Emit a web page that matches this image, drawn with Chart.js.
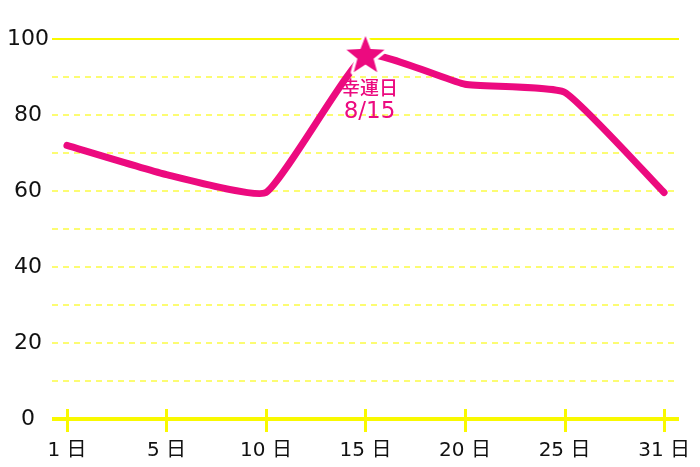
<!DOCTYPE html>
<html>
<head>
<meta charset="utf-8">
<script src="https://cdn.jsdelivr.net/npm/chart.js@4/dist/chart.umd.min.js"></script>
<style>
    html, body { margin: 0; padding: 0; background: #fff; }
    #wrap { width: 700px; height: 467px; }
</style>
</head>
<body>
<div id="wrap"><canvas id="luckChart"></canvas></div>
<script>
const days = [1, 5, 10, 15, 20, 25, 31];
const luck = [72, 64.3, 59.6, 95.8, 88.1, 86, 59.6];
const yTicks = [0, 20, 40, 60, 80, 100];
const luckyIndex = 3;
const luckyText = ['幸運日', '8/15'];

const pink = '#ec0a7f';
const yellow = '#f9f900';
const paleYellow = '#fcfc72';
const fontFamily = '"DejaVu Sans", "Noto Sans CJK JP", sans-serif';
const cjkFamily = '"Noto Sans CJK JP", sans-serif';

// filled star with a white rim, used as the point style of the lucky day
function makeStar() {
    const c = document.createElement('canvas');
    c.width = 50;
    c.height = 50;
    const g = c.getContext('2d');
    const cx = 25, cy = 26, outer = 20, inner = 8.5;
    g.beginPath();
    for (let i = 0; i < 10; i++) {
        const r = i % 2 ? inner : outer;
        const a = -Math.PI / 2 + i * Math.PI / 5;
        g.lineTo(cx + r * Math.cos(a), cy + r * Math.sin(a));
    }
    g.closePath();
    g.lineJoin = 'round';
    g.lineWidth = 6;
    g.strokeStyle = '#fff';
    g.stroke();
    g.fillStyle = pink;
    g.fill();
    return c;
}
const star = makeStar();

const axisDecor = {
    id: 'axisDecor',
    beforeDatasetsDraw(chart) {
        const { ctx, chartArea, scales } = chart;
        ctx.save();
        for (let v = 10; v <= 100; v += 10) {
            const y = Math.round(scales.y.getPixelForValue(v));
            ctx.beginPath();
            ctx.lineWidth = 2;
            if (v === 100) {
                ctx.strokeStyle = yellow;
                ctx.setLineDash([]);
            } else {
                ctx.strokeStyle = paleYellow;
                ctx.setLineDash([6, 5]);
            }
            ctx.moveTo(chartArea.left, y);
            ctx.lineTo(chartArea.right, y);
            ctx.stroke();
        }
        ctx.restore();
    },
    afterDatasetsDraw(chart) {
        const { ctx, chartArea, scales } = chart;
        ctx.save();
        const y0 = Math.round(scales.y.getPixelForValue(0));
        ctx.strokeStyle = yellow;
        ctx.lineWidth = 4;
        ctx.beginPath();
        ctx.moveTo(chartArea.left, y0);
        ctx.lineTo(chartArea.right, y0);
        ctx.stroke();
        ctx.lineWidth = 3;
        days.forEach((d, i) => {
            const x = Math.round(scales.x.getPixelForValue(i)) + 0.5;
            ctx.beginPath();
            ctx.moveTo(x, y0 - 10);
            ctx.lineTo(x, y0 + 13);
            ctx.stroke();
        });
        const pt = chart.getDatasetMeta(0).data[luckyIndex];
        ctx.fillStyle = pink;
        ctx.textAlign = 'center';
        ctx.textBaseline = 'middle';
        ctx.font = '500 19px ' + cjkFamily;
        ctx.fillText(luckyText[0], pt.x + 4, pt.y + 33);
        ctx.font = '23px ' + fontFamily;
        ctx.fillText(luckyText[1], pt.x + 4, pt.y + 57);
        ctx.restore();
    }
};

new Chart(document.getElementById('luckChart'), {
    type: 'line',
    data: {
        datasets: [{
            data: luck.map((v, i) => ({ x: i, y: v })),
            borderColor: pink,
            borderWidth: 7,
            borderCapStyle: 'round',
            borderJoinStyle: 'round',
            tension: 0.13,
            fill: false,
            clip: false,
            pointStyle: (c) => c.dataIndex === luckyIndex ? star : 'circle',
            pointRadius: (c) => c.dataIndex === luckyIndex ? 20 : 0,
            pointHoverRadius: (c) => c.dataIndex === luckyIndex ? 20 : 0
        }]
    },
    options: {
        responsive: true,
        maintainAspectRatio: false,
        animation: false,
        layout: {
            padding: { top: 39, right: 21, bottom: 0, left: 0 }
        },
        plugins: {
            legend: { display: false },
            tooltip: { enabled: false }
        },
        scales: {
            x: {
                type: 'linear',
                min: -0.15,
                max: days.length - 1 + 0.15,
                afterBuildTicks: (scale) => {
                    scale.ticks = days.map((d, i) => ({ value: i }));
                },
                afterFit: (scale) => {
                    scale.height = 48;
                    scale.paddingLeft = 0;
                    scale.paddingRight = 0;
                },
                grid: { display: false, drawTicks: false },
                border: { display: false },
                ticks: {
                    padding: 20,
                    color: '#111',
                    font: { family: fontFamily, size: 20 },
                    callback: (v) => days[v] + ' 日'
                }
            },
            y: {
                min: 0,
                max: 100,
                afterFit: (scale) => { scale.width = 52; },
                afterBuildTicks: (scale) => {
                    scale.ticks = yTicks.map((v) => ({ value: v }));
                },
                grid: { display: false, drawTicks: false },
                border: { display: false },
                ticks: {
                    padding: 3,
                    crossAlign: 'center',
                    color: '#111',
                    font: { family: fontFamily, size: 22 }
                }
            }
        }
    },
    plugins: [axisDecor]
});
</script>
</body>
</html>
